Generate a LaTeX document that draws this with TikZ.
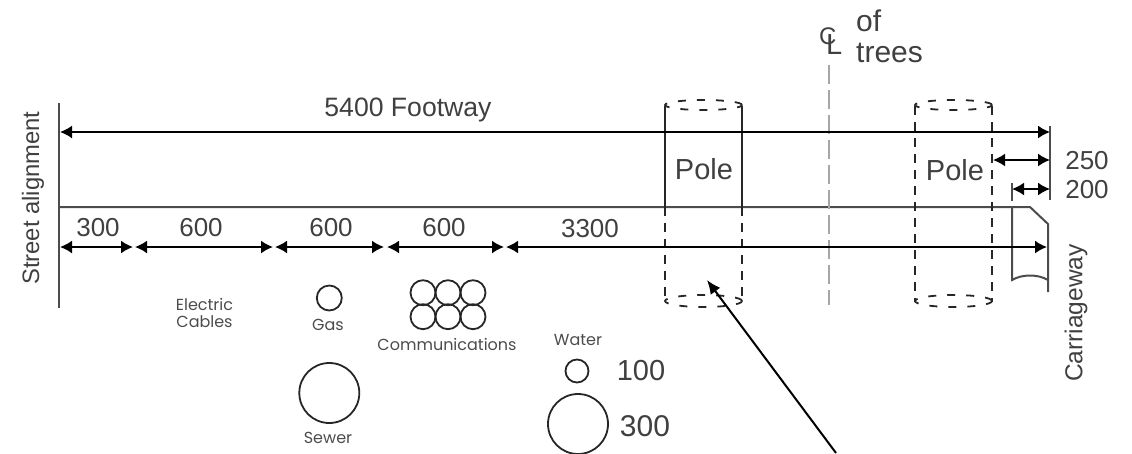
\documentclass[tikz,border=0pt]{standalone}
\usepackage{fontspec}
\setmainfont{Liberation Sans}
\newfontfamily\gothicfont{Poppins}
\usetikzlibrary{arrows.meta}
\tikzset{
    lbl/.style={text=black!75, inner sep=0pt, font=\fontsize{26}{31}\selectfont},
    tiny/.style={text=black!70, inner sep=0pt, align=center, font=\gothicfont\fontsize{16}{17}\selectfont},
    pipe/.style={draw=black!85, circle, line width=1.8pt, inner sep=0pt, minimum size=#1},
    dim/.style={<->, >={Latex[length=12pt,width=13pt]}, line width=1.8pt},
    edge/.style={draw=black!70, line width=2pt},
    hid/.style={draw=black!85, line width=1.8pt, dash pattern=on 9pt off 7pt},
    polecap/.style={draw=black!85, line width=1.8pt, dash pattern=on 8pt off 11pt},
}
\begin{document}
\begin{tikzpicture}[x=1pt, y=-1pt]
    \useasboundingbox (0, 0) rectangle (1132, 453);

    \coordinate (sTop) at (59, 103);
    \coordinate (sBot) at (59, 308);
    \coordinate (sMid) at (59, 207);
    \coordinate (kA) at (1030, 207);
    \coordinate (kB) at (1048, 224);
    \coordinate (kC) at (1048, 292);
    \coordinate (cTop) at (1012, 207);
    \coordinate (cBot) at (1012, 280);
    \coordinate (cEnd) at (1048, 280);
    \coordinate (rTop) at (1050, 126);
    \coordinate (rBot) at (1050, 200);
    \draw[edge] (sTop) -- (sBot);
    \draw[edge] (sMid) -- (kA) -- (kB) -- (kC);
    \draw[edge] (cTop) -- (cBot) .. controls (1022, 274) and (1038, 274) .. (cEnd);
    \draw[edge] (rTop) -- (rBot);

    \coordinate (p1a) at (665, 106);
    \coordinate (p1b) at (665, 207);
    \coordinate (p1c) at (665, 302);
    \coordinate (p2a) at (742, 106);
    \coordinate (p2b) at (742, 207);
    \coordinate (p2c) at (742, 302);
    \coordinate (p3a) at (915, 106);
    \coordinate (p3c) at (915, 302);
    \coordinate (p4a) at (992, 106);
    \coordinate (p4c) at (992, 302);
    \draw[edge, draw=black!85] (p1a) -- (p1b);
    \draw[edge, draw=black!85] (p2a) -- (p2b);
    \draw[hid] (p1b) -- (p1c);
    \draw[hid] (p2b) -- (p2c);
    \draw[hid] (p3a) -- (p3c);
    \draw[hid] (p4a) -- (p4c);
    \draw[polecap] (703.5, 105) ellipse [x radius=38.5pt, y radius=5pt];
    \draw[polecap] (703.5, 301) ellipse [x radius=38.5pt, y radius=6pt];
    \draw[polecap] (953.5, 105) ellipse [x radius=38.5pt, y radius=5pt];
    \draw[polecap] (953.5, 301) ellipse [x radius=38.5pt, y radius=6pt];

    \coordinate (clTop) at (829, 65);
    \coordinate (clBot) at (829, 305);
    \draw[draw=black!35, line width=1.8pt, dash pattern=on 19pt off 6pt] (clTop) -- (clBot);

    \coordinate (fA) at (60, 132);
    \coordinate (fB) at (1050, 132);
    \draw[dim] (fA) -- (fB);
    \coordinate (qA) at (993, 160);
    \coordinate (qB) at (1050, 160);
    \draw[dim] (qA) -- (qB);
    \coordinate (wA) at (1012, 189);
    \coordinate (wB) at (1050, 189);
    \coordinate (wT) at (1012, 183);
    \coordinate (wU) at (1012, 201);
    \draw[dim] (wA) -- (wB);
    \draw[edge] (wT) -- (wU);

    \coordinate (t0) at (60, 247);
    \coordinate (t1) at (133, 247);
    \coordinate (t2) at (135, 247);
    \coordinate (t3) at (273, 247);
    \coordinate (t4) at (275, 247);
    \coordinate (t5) at (384, 247);
    \coordinate (t6) at (387, 247);
    \coordinate (t7) at (504, 247);
    \coordinate (t8) at (506, 247);
    \coordinate (t9) at (1047, 247);
    \draw[dim] (t0) -- (t1);
    \draw[dim] (t2) -- (t3);
    \draw[dim] (t4) -- (t5);
    \draw[dim] (t6) -- (t7);
    \draw[dim] (t8) -- (t9);

    \node[lbl, font=\fontsize{26.6}{31}\selectfont] (footway) at (408, 110) {5400 Footway};
    \node[lbl, rotate=90, font=\fontsize{23.8}{31}\selectfont] (street) at (33, 198) {Street alignment};
    \node[lbl, rotate=90, font=\fontsize{24.5}{31}\selectfont] (carriage) at (1076, 313) {Carriageway};
    \node[lbl, font=\fontsize{29}{31}\selectfont] (pole1) at (704, 169) {Pole};
    \node[lbl, font=\fontsize{29}{31}\selectfont] (pole2) at (955, 170) {Pole};
    \node[lbl] (d250) at (1087, 161) {250};
    \node[lbl] (d200) at (1087, 190) {200};
    \node[lbl] (d300) at (98, 228) {300};
    \node[lbl] (d600a) at (201, 228) {600};
    \node[lbl] (d600b) at (331, 228) {600};
    \node[lbl] (d600c) at (444, 228) {600};
    \node[lbl] (d3300) at (590, 229) {3300};
    \node[lbl, font=\fontsize{24}{31}\selectfont] (clmark) at (830.6, 41.5) {C\kern-10.3pt\lower10pt\hbox{\fontsize{29}{31}\selectfont L}};
    \node[lbl, anchor=west, align=left, font=\fontsize{30}{31}\selectfont] (trees) at (856, 36) {of\\trees};

    \node[pipe=25pt] (gas) at (329.3, 298) {};
    \node[pipe=60pt] (sewer) at (329.3, 393) {};
    \node[pipe=23pt] (water) at (577, 371) {};
    \node[pipe=60pt] (main) at (578, 424) {};
    \foreach \cx/\cn in {423/a, 448/b, 473/c} {
        \node[pipe=25pt] (com1\cn) at (\cx, 292.7) {};
        \node[pipe=25pt] (com2\cn) at (\cx, 316.7) {};
    }

    \node[tiny] (electric) at (204.5, 312.5) {Electric\\Cables};
    \node[tiny] (gastxt) at (328, 325) {Gas};
    \node[tiny] (sewertxt) at (328, 438) {Sewer};
    \node[tiny] (comtxt) at (447, 344) {Communications};
    \node[tiny] (watertxt) at (578, 340) {Water};
    \node[lbl, font=\fontsize{29}{31}\selectfont] (w100) at (641, 371) {100};
    \node[lbl, font=\fontsize{30}{31}\selectfont] (w300) at (645, 426) {300};

    \coordinate (ptrA) at (836, 453);
    \coordinate (ptrB) at (707, 280);
    \draw[->, >={Latex[length=14pt,width=12pt]}, line width=2pt] (ptrA) -- (ptrB);
\end{tikzpicture}
\end{document}
